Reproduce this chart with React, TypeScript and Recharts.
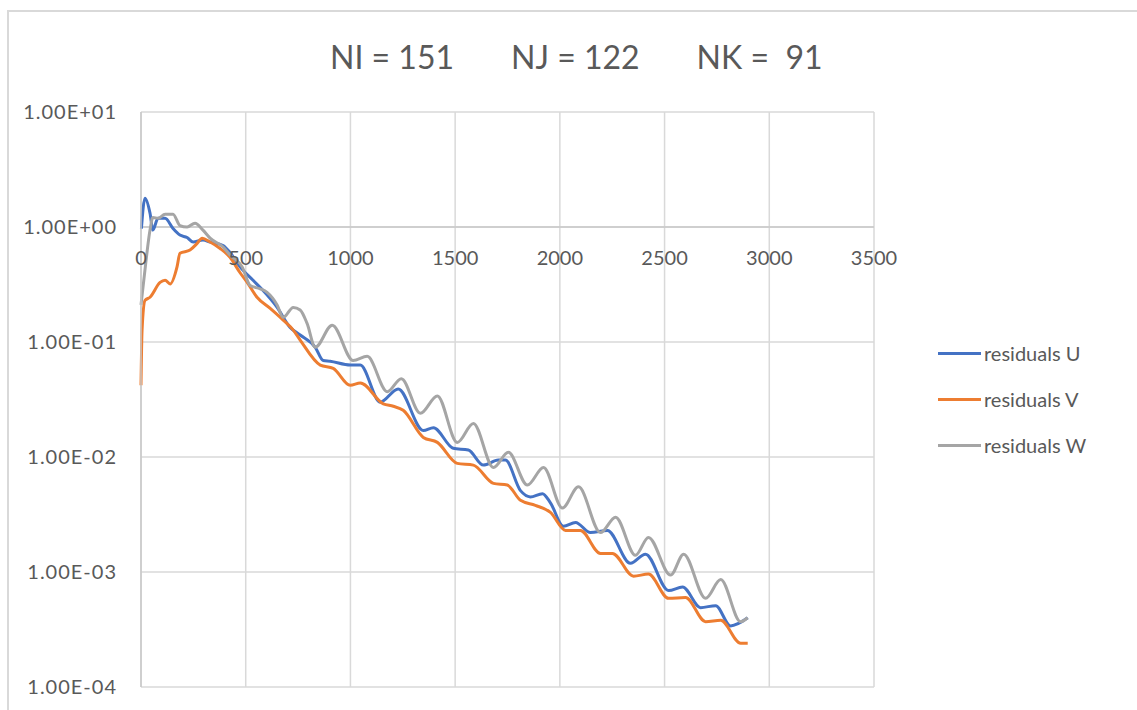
import { LineChart, Line, XAxis, YAxis, CartesianGrid, ReferenceLine } from "recharts";

const W = 1137;
const H = 710;
const PLOT_TOP = 112;
const PLOT_BOTTOM = 23;
const PLOT_LEFT = 141;
const PLOT_RIGHT = 263;
const PLOT_H = H - PLOT_TOP - PLOT_BOTTOM;

const FONT = "Lato, 'Open Sans', sans-serif";
const TEXT = "#595959";
const GRID = "#d9d9d9";

const titleParts = ["NI = 151", "NJ = 122", "NK =  91"];

const xTicks = [0, 500, 1000, 1500, 2000, 2500, 3000, 3500];
const yTicks = [1e-4, 1e-3, 1e-2, 1e-1, 1, 10];

// residuals U
const iterU = [2, 19, 43, 57, 81, 115, 153, 186, 220, 249, 296, 330, 392, 425, 473, 535, 583, 650, 712, 760, 832, 870, 903, 999, 1047, 1142, 1228, 1348, 1396, 1491, 1563, 1635, 1706, 1740, 1812, 1859, 1917, 1955, 2017, 2075, 2146, 2227, 2337, 2409, 2519, 2586, 2672, 2744, 2815, 2897];
const resU = [0.97, 1.78, 1.32, 0.94, 1.19, 1.19, 0.97, 0.85, 0.81, 0.74, 0.77, 0.74, 0.69, 0.6, 0.45, 0.344, 0.28, 0.2, 0.134, 0.115, 0.09, 0.069, 0.068, 0.063, 0.063, 0.03, 0.039, 0.017, 0.018, 0.0119, 0.0115, 0.0085, 0.0094, 0.0094, 0.0051, 0.0045, 0.0048, 0.004, 0.0025, 0.0027, 0.0022, 0.0023, 0.00119, 0.00143, 0.00069, 0.00074, 0.00049, 0.00051, 0.00034, 0.0004];

// residuals V
const iterV = [0, 5, 19, 43, 91, 115, 139, 172, 186, 234, 268, 292, 330, 378, 425, 473, 507, 554, 617, 679, 727, 760, 856, 918, 999, 1047, 1157, 1205, 1252, 1348, 1415, 1510, 1587, 1683, 1749, 1812, 1883, 1955, 2027, 2098, 2194, 2251, 2352, 2423, 2519, 2600, 2696, 2768, 2863, 2897];
const resV = [0.042, 0.126, 0.23, 0.245, 0.33, 0.345, 0.32, 0.45, 0.59, 0.63, 0.72, 0.8, 0.74, 0.65, 0.545, 0.4, 0.33, 0.245, 0.196, 0.155, 0.127, 0.104, 0.063, 0.059, 0.042, 0.044, 0.029, 0.0276, 0.0255, 0.0148, 0.0134, 0.0088, 0.0085, 0.0059, 0.0057, 0.0042, 0.0038, 0.0033, 0.0023, 0.0023, 0.00145, 0.00145, 0.00092, 0.00096, 0.00059, 0.0006, 0.00037, 0.00038, 0.00024, 0.00024];

// residuals W
const iterW = [0, 24, 43, 57, 81, 115, 153, 186, 220, 258, 296, 330, 392, 425, 483, 521, 569, 602, 650, 679, 727, 760, 793, 832, 913, 1013, 1080, 1176, 1243, 1334, 1415, 1510, 1587, 1683, 1754, 1845, 1922, 2012, 2089, 2194, 2266, 2361, 2423, 2529, 2591, 2696, 2768, 2863, 2897];
const resW = [0.21, 0.51, 0.94, 1.21, 1.19, 1.29, 1.29, 1.03, 1.0, 1.08, 0.94, 0.8, 0.67, 0.57, 0.45, 0.31, 0.29, 0.27, 0.21, 0.164, 0.2, 0.19, 0.145, 0.09, 0.14, 0.069, 0.075, 0.037, 0.048, 0.024, 0.034, 0.0134, 0.0196, 0.0081, 0.011, 0.0057, 0.0081, 0.0036, 0.0055, 0.0022, 0.003, 0.0014, 0.002, 0.00094, 0.00143, 0.00059, 0.00086, 0.00037, 0.0004];

const toRows = (xs: number[], ys: number[]) => xs.map((x, i) => ({ x, y: ys[i] }));

const series = [
  { name: "residuals U", color: "#4472C4", data: toRows(iterU, resU) },
  { name: "residuals V", color: "#ED7D31", data: toRows(iterV, resV) },
  { name: "residuals W", color: "#A5A5A5", data: toRows(iterW, resW) },
];

const fmtExp = (v: number) => {
  const e = Math.round(Math.log10(v));
  const sign = e < 0 ? "-" : "+";
  return `1.00E${sign}${String(Math.abs(e)).padStart(2, "0")}`;
};

// x axis crosses at y = 1, i.e. 4 of 5 decades above the bottom
const crossShift = (PLOT_H * 4) / 5;

const XTick = (props: any) => {
  const { x, y, payload } = props;
  return (
    <text x={x} y={y - crossShift + 38} textAnchor="middle" fill={TEXT} fontSize={20} fontFamily={FONT}>
      {payload.value}
    </text>
  );
};

export default function App() {
  return (
    <div style={{ position: "absolute", left: 0, top: 0, width: W, height: H, background: "#fff", overflow: "hidden" }}>
      <div style={{ position: "absolute", left: 7, top: 10, right: -10, bottom: -10, borderLeft: `2px solid ${GRID}`, borderTop: `2px solid ${GRID}` }} />
      <div
        style={{
          position: "absolute",
          top: 37,
          left: 330,
          display: "flex",
          gap: 57,
          fontFamily: FONT,
          fontSize: 32,
          color: TEXT,
          whiteSpace: "pre",
        }}
      >
        {titleParts.map((t) => (
          <span key={t}>{t}</span>
        ))}
      </div>
      <LineChart
        width={W}
        height={H}
        margin={{ top: PLOT_TOP, right: PLOT_RIGHT, bottom: PLOT_BOTTOM - 1, left: 0 }}
        style={{ position: "absolute", left: 0, top: 0 }}
      >
        <CartesianGrid stroke={GRID} strokeWidth={1.5} />
        <XAxis
          dataKey="x"
          type="number"
          domain={[0, 3500]}
          ticks={xTicks}
          height={1}
          axisLine={false}
          tickLine={false}
          tickSize={0}
          tickMargin={0}
          tick={<XTick />}
          allowDuplicatedCategory={false}
        />
        <YAxis
          scale="log"
          domain={[1e-4, 10]}
          ticks={yTicks}
          allowDataOverflow
          width={PLOT_LEFT}
          axisLine={{ stroke: "#c8c8c8", strokeWidth: 1.5 }}
          tickLine={false}
          tickSize={0}
          tickMargin={24}
          tickFormatter={fmtExp}
          tick={{ fill: TEXT, fontSize: 20, fontFamily: FONT, letterSpacing: 1 }}
        />
        <ReferenceLine y={1} stroke="#c8c8c8" strokeWidth={1.5} />
        {series.map((s) => (
          <Line
            key={s.name}
            data={s.data}
            dataKey="y"
            name={s.name}
            type="monotone"
            stroke={s.color}
            strokeWidth={3}
            dot={false}
            isAnimationActive={false}
          />
        ))}
      </LineChart>
      <div style={{ position: "absolute", left: 938, top: 330, fontFamily: FONT, fontSize: 20, color: TEXT }}>
        {series.map((s) => (
          <div key={s.name} style={{ display: "flex", alignItems: "center", height: 46 }}>
            <span style={{ display: "inline-block", width: 43, height: 3, background: s.color, marginRight: 3 }} />
            <span>{s.name}</span>
          </div>
        ))}
      </div>
    </div>
  );
}
